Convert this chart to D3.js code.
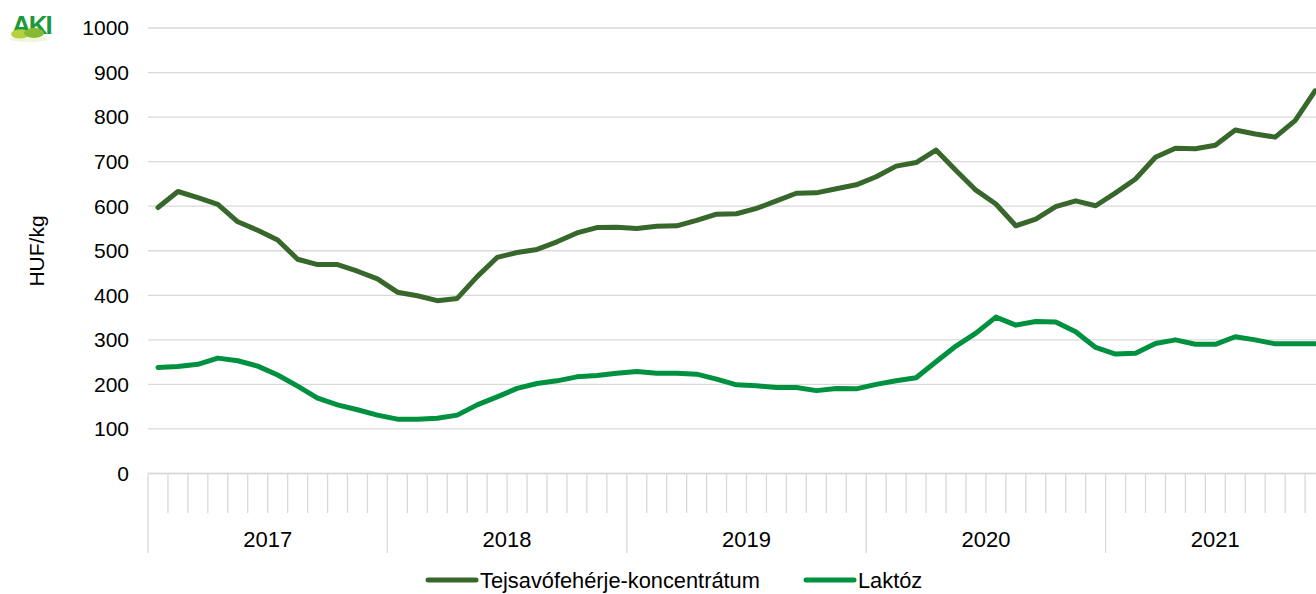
<!DOCTYPE html>
<html>
<head>
<meta charset="utf-8">
<script src="https://cdn.jsdelivr.net/npm/d3@7"></script>
<style>
  body { margin: 0; background: #fff; }
  text { font-family: "Liberation Sans", Arial, sans-serif; fill: #000; }
</style>
</head>
<body>
<div id="chart"></div>
<script>
// Years on the x axis and how many months each has (2021 ends in November)
const years = ["2017", "2018", "2019", "2020", "2021"]
const monthsPerYear = [12, 12, 12, 12, 11]

// HUF/kg, monthly values
const tejsavo = [597, 633, 619, 604, 565, 546, 524, 481, 469, 469, 454, 437,
  407, 399, 388, 393, 442, 485, 496, 503, 520, 540, 552, 553,
  550, 555, 556, 568, 582, 583, 595, 612, 629, 630, 639, 648,
  666, 690, 698, 726, 680, 636, 605, 556, 571, 599, 612, 601,
  630, 661, 710, 730, 729, 737, 771, 762, 755, 792, 859]
const laktoz = [238, 240, 245, 259, 253, 241, 221, 196, 169, 154, 143, 131,
  122, 122, 124, 131, 154, 172, 191, 202, 208, 217, 220, 225,
  229, 225, 225, 223, 212, 199, 197, 193, 193, 186, 191, 190,
  200, 208, 215, 251, 286, 315, 351, 333, 341, 340, 318, 283,
  268, 270, 292, 300, 290, 290, 307, 300, 291, 291, 291]

const yTicks = [0, 100, 200, 300, 400, 500, 600, 700, 800, 900, 1000]
const seriesNames = ["Tejsavófehérje-koncentrátum", "Laktóz"]
const colors = ["#38672b", "#009140"]

let width = 1316
let height = 594

// list of month keys like "2017-1"
const months = []
years.forEach((y, i) => {
  for (let m = 1; m <= monthsPerYear[i]; m++) months.push(y + "-" + m)
})

const left = 148
const monthW = 19.95

let x = d3.scaleBand()
  .domain(months)
  .range([left, left + monthW * months.length])

let y = d3.scaleLinear()
  .domain([0, 1000])
  .range([473.5, 28])

let svg = d3.select("#chart")
  .append("svg")
  .attr("width", width)
  .attr("height", height)

// gridlines
svg.append("g")
  .selectAll("line")
  .data(yTicks)
  .enter().append("line")
  .attr("x1", left)
  .attr("x2", width)
  .attr("y1", d => y(d))
  .attr("y2", d => y(d))
  .attr("stroke", "#d9d9d9")
  .attr("stroke-width", 1.3)

// y labels
svg.append("g")
  .selectAll("text")
  .data(yTicks)
  .enter().append("text")
  .attr("x", 129)
  .attr("y", d => y(d))
  .attr("dy", "0.35em")
  .attr("text-anchor", "end")
  .style("font-size", "21px")
  .text(d => d)

svg.append("text")
  .attr("transform", "translate(44," + 251 + ") rotate(-90)")
  .attr("text-anchor", "middle")
  .style("font-size", "21px")
  .text("HUF/kg")

// x axis: month ticks and year dividers
const axisY = y(0)
svg.append("g")
  .selectAll("line")
  .data(months.slice(1))
  .enter().append("line")
  .attr("x1", d => x(d))
  .attr("x2", d => x(d))
  .attr("y1", axisY)
  .attr("y2", d => d.endsWith("-1") ? 553 : 513)
  .attr("stroke", "#d9d9d9")
  .attr("stroke-width", 1.3)

svg.append("line")
  .attr("x1", left).attr("x2", left)
  .attr("y1", axisY).attr("y2", 553)
  .attr("stroke", "#d9d9d9")
  .attr("stroke-width", 1.3)

svg.append("line")
  .attr("x1", left)
  .attr("x2", width)
  .attr("y1", axisY)
  .attr("y2", axisY)
  .attr("stroke", "#d9d9d9")
  .attr("stroke-width", 1.3)

svg.append("g")
  .selectAll("text")
  .data(years)
  .enter().append("text")
  .attr("x", (d, i) => {
    const first = x(d + "-1")
    return first + monthW * monthsPerYear[i] / 2
  })
  .attr("y", 539)
  .attr("dy", "0.35em")
  .attr("text-anchor", "middle")
  .style("font-size", "22px")
  .text(d => d)

// the two lines
const line = d3.line()
  .x((d, i) => x(months[i]) + x.bandwidth() / 2)
  .y(d => y(d))

;[tejsavo, laktoz].forEach((s, i) => {
  svg.append("path")
    .datum(s)
    .attr("d", line)
    .attr("fill", "none")
    .attr("stroke", colors[i])
    .attr("stroke-width", 5)
    .attr("stroke-linejoin", "round")
    .attr("stroke-linecap", "round")
})

// legend
const legendX = [428, 806]
seriesNames.forEach((name, i) => {
  svg.append("line")
    .attr("x1", legendX[i])
    .attr("x2", legendX[i] + 48)
    .attr("y1", 580)
    .attr("y2", 580)
    .attr("stroke", colors[i])
    .attr("stroke-width", 5)
    .attr("stroke-linecap", "round")
  svg.append("text")
    .attr("x", legendX[i] + 52)
    .attr("y", 580)
    .attr("dy", "0.35em")
    .style("font-size", "21.8px")
    .text(name)
})

// AKI logo, top left (letters first, blobs over the bottom)
let logo = svg.append("g").attr("transform", "translate(8,12)")
logo.append("text")
  .attr("x", 4)
  .attr("y", 22)
  .style("font-size", "26px")
  .style("font-weight", "bold")
  .style("letter-spacing", "-2px")
  .style("fill", "#1c9a3a")
  .text("AKI")
logo.append("ellipse").attr("cx", 21).attr("cy", 27).attr("rx", 19).attr("ry", 3).attr("fill", "#eef5d8")
logo.append("ellipse").attr("cx", 12).attr("cy", 22).attr("rx", 9).attr("ry", 4.5).attr("fill", "#b5d23c")
logo.append("ellipse").attr("cx", 26).attr("cy", 21).attr("rx", 10).attr("ry", 5).attr("fill", "#86b832")
</script>
</body>
</html>
